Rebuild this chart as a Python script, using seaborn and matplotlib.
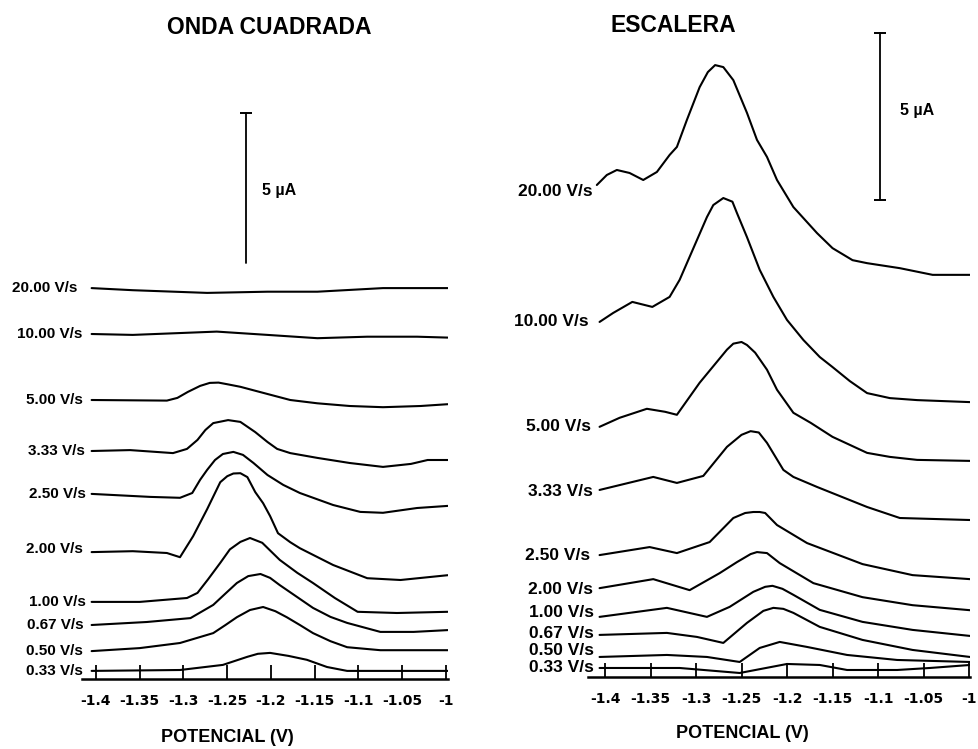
import matplotlib
matplotlib.use("Agg")
import matplotlib.pyplot as plt
import numpy as np
import pandas as pd
import seaborn as sns

# ---------------------------------------------------------------------------
# Scan rates (V/s), top to bottom
rates = ["20.00", "10.00", "5.00", "3.33", "2.50", "2.00", "1.00", "0.67", "0.50", "0.33"]

# ---- ONDA CUADRADA: potential (V) and current relative to start (uA) ----
sq_20_e = [-1.405, -1.358, -1.273, -1.204, -1.147, -1.072, -0.998]
sq_20_i = [0.00, -0.07, -0.16, -0.12, -0.12, 0.00, 0.00]

sq_10_e = [-1.405, -1.358, -1.262, -1.204, -1.147, -1.090, -1.033, -0.998]
sq_10_i = [0.00, -0.03, 0.08, -0.03, -0.14, -0.09, -0.09, -0.12]

sq_5_e = [-1.405, -1.319, -1.307, -1.295, -1.281, -1.270, -1.260, -1.249, -1.235, -1.204,
          -1.178, -1.147, -1.110, -1.072, -1.029, -0.998]
sq_5_i = [0.00, -0.02, 0.07, 0.27, 0.47, 0.57, 0.58, 0.52, 0.44, 0.20,
          0.00, -0.11, -0.20, -0.24, -0.20, -0.14]

sq_333_e = [-1.405, -1.361, -1.312, -1.296, -1.284, -1.275, -1.266, -1.249, -1.235, -1.218,
            -1.204, -1.193, -1.178, -1.147, -1.110, -1.072, -1.040, -1.021, -0.998]
sq_333_i = [0.00, 0.03, -0.07, 0.07, 0.37, 0.70, 0.93, 1.03, 0.97, 0.63,
            0.30, 0.07, -0.07, -0.23, -0.40, -0.53, -0.43, -0.30, -0.30]

sq_25_e = [-1.405, -1.338, -1.304, -1.290, -1.281, -1.273, -1.264, -1.255, -1.243, -1.232,
           -1.220, -1.204, -1.186, -1.167, -1.129, -1.098, -1.072, -1.033, -0.998]
sq_25_i = [0.00, -0.10, -0.13, 0.03, 0.47, 0.80, 1.13, 1.33, 1.40, 1.30,
           1.03, 0.63, 0.30, 0.03, -0.37, -0.60, -0.63, -0.47, -0.40]

sq_2_e = [-1.405, -1.358, -1.319, -1.304, -1.289, -1.273, -1.258, -1.250, -1.243, -1.235,
          -1.227, -1.218, -1.209, -1.201, -1.192, -1.178, -1.167, -1.129, -1.090, -1.052, -0.998]
sq_2_i = [0.00, 0.03, -0.03, -0.17, 0.53, 1.43, 2.33, 2.53, 2.62, 2.63,
          2.50, 2.00, 1.63, 1.20, 0.63, 0.33, 0.13, -0.43, -0.87, -0.93, -0.77]

sq_1_e = [-1.405, -1.350, -1.296, -1.284, -1.272, -1.258, -1.247, -1.235, -1.224, -1.210,
          -1.190, -1.170, -1.152, -1.127, -1.101, -1.056, -0.998]
sq_1_i = [0.00, 0.00, 0.13, 0.30, 0.75, 1.30, 1.75, 2.00, 2.13, 1.97,
          1.40, 0.97, 0.63, 0.13, -0.33, -0.37, -0.33]

sq_067_e = [-1.405, -1.342, -1.292, -1.266, -1.252, -1.239, -1.226, -1.212, -1.201, -1.190,
            -1.170, -1.152, -1.132, -1.113, -1.075, -1.037, -0.998]
sq_067_i = [0.00, 0.10, 0.23, 0.67, 1.05, 1.40, 1.63, 1.70, 1.57, 1.33,
            0.93, 0.57, 0.27, 0.07, -0.23, -0.23, -0.17]

sq_05_e = [-1.405, -1.350, -1.304, -1.266, -1.252, -1.239, -1.224, -1.209, -1.195, -1.182,
           -1.167, -1.152, -1.132, -1.113, -1.075, -0.998]
sq_05_i = [0.00, 0.10, 0.27, 0.60, 0.87, 1.13, 1.37, 1.47, 1.33, 1.13,
           0.87, 0.60, 0.33, 0.13, 0.03, 0.03]

sq_033_e = [-1.405, -1.304, -1.255, -1.227, -1.215, -1.201, -1.180, -1.159, -1.136, -1.113, -0.998]
sq_033_i = [0.00, 0.03, 0.20, 0.47, 0.57, 0.60, 0.50, 0.37, 0.13, 0.00, 0.00]

# ---- ESCALERA: potential (V) and current relative to start (uA) ----
st_20_e = [-1.409, -1.398, -1.387, -1.373, -1.358, -1.343, -1.329, -1.321, -1.310, -1.296,
           -1.287, -1.279, -1.270, -1.259, -1.244, -1.233, -1.222, -1.211, -1.193, -1.167,
           -1.150, -1.128, -1.112, -1.076, -1.040, -0.999]
st_20_i = [0.00, 0.30, 0.45, 0.36, 0.15, 0.39, 0.90, 1.14, 1.95, 2.93,
           3.38, 3.59, 3.53, 3.14, 2.16, 1.35, 0.84, 0.15, -0.66, -1.44,
           -1.89, -2.25, -2.34, -2.49, -2.69, -2.69]

st_10_e = [-1.406, -1.391, -1.370, -1.348, -1.329, -1.318, -1.307, -1.288, -1.281, -1.270,
           -1.260, -1.255, -1.244, -1.230, -1.215, -1.200, -1.182, -1.164, -1.150, -1.131,
           -1.112, -1.087, -1.057, -0.999]
st_10_i = [0.00, 0.27, 0.60, 0.45, 0.75, 1.26, 1.95, 3.14, 3.50, 3.71,
           3.60, 3.26, 2.54, 1.56, 0.75, 0.06, -0.54, -1.05, -1.35, -1.77,
           -2.13, -2.28, -2.34, -2.40]

st_5_e = [-1.406, -1.384, -1.354, -1.334, -1.321, -1.296, -1.266, -1.259, -1.250, -1.244,
          -1.235, -1.222, -1.211, -1.193, -1.174, -1.150, -1.112, -1.087, -1.057, -0.999]
st_5_i = [0.00, 0.27, 0.54, 0.45, 0.36, 1.32, 2.31, 2.49, 2.54, 2.45,
          2.22, 1.71, 1.11, 0.42, 0.12, -0.30, -0.78, -0.90, -0.99, -1.02]

st_333_e = [-1.406, -1.347, -1.321, -1.292, -1.266, -1.250, -1.240, -1.231, -1.222, -1.204,
            -1.193, -1.167, -1.112, -1.076, -0.999]
st_333_i = [0.00, 0.39, 0.21, 0.42, 1.29, 1.65, 1.76, 1.72, 1.41, 0.60,
            0.39, 0.09, -0.51, -0.84, -0.90]

st_25_e = [-1.406, -1.351, -1.321, -1.285, -1.259, -1.246, -1.237, -1.230, -1.224, -1.211,
           -1.178, -1.117, -1.062, -0.999]
st_25_i = [0.00, 0.24, 0.06, 0.39, 1.11, 1.26, 1.29, 1.29, 1.26, 0.90,
           0.36, -0.27, -0.60, -0.72]

st_2_e = [-1.406, -1.347, -1.307, -1.274, -1.255, -1.240, -1.233, -1.222, -1.208, -1.171,
          -1.117, -1.062, -0.999]
st_2_i = [0.00, 0.27, -0.06, 0.45, 0.78, 1.02, 1.08, 1.05, 0.75, 0.15,
          -0.27, -0.51, -0.66]

st_1_e = [-1.406, -1.332, -1.288, -1.263, -1.237, -1.224, -1.216, -1.205, -1.193, -1.164,
          -1.117, -1.062, -0.999]
st_1_i = [0.00, 0.27, 0.00, 0.30, 0.75, 0.90, 0.93, 0.84, 0.66, 0.21,
          -0.15, -0.39, -0.57]

st_067_e = [-1.406, -1.332, -1.299, -1.270, -1.244, -1.226, -1.215, -1.204, -1.193, -1.164,
            -1.117, -1.062, -0.999]
st_067_i = [0.00, 0.06, -0.06, -0.24, 0.36, 0.72, 0.81, 0.78, 0.66, 0.24,
            -0.15, -0.45, -0.66]

st_05_e = [-1.406, -1.332, -1.288, -1.252, -1.230, -1.208, -1.178, -1.134, -1.079, -0.999]
st_05_i = [0.00, 0.06, 0.00, -0.15, 0.27, 0.45, 0.30, 0.06, -0.09, -0.15]

st_033_e = [-1.406, -1.318, -1.252, -1.200, -1.164, -1.134, -1.079, -1.043, -0.999]
st_033_i = [0.00, 0.00, -0.15, 0.12, 0.09, -0.06, -0.06, 0.00, 0.09]

# Tick positions and labels (V)
tick_values = [-1.4, -1.35, -1.3, -1.25, -1.2, -1.15, -1.1, -1.05, -1.0]
tick_labels = ["-1.4", "-1.35", "-1.3", "-1.25", "-1.2", "-1.15", "-1.1", "-1.05", "-1"]

# ---------------------------------------------------------------------------
# Vertical stacking of the traces (uA) and label nudges (points)
sq_offsets = [13.03, 11.50, 9.30, 7.60, 6.17, 4.23, 2.57, 1.80, 0.93, 0.27]
st_offsets = [14.73, 10.63, 7.49, 5.60, 3.65, 2.66, 1.80, 1.26, 0.60, 0.27]
sq_label_dx = [-10, -7, -6, -5, -4, -6, -4, -6, -6, -6]
sq_label_dy = [0, 0, 0, 0, 0, 2, 0, 0, 0, 0]
st_label_dx = [-3, -8, -6, -5, -7, -5, -4, -4, -4, -4]
st_label_dy = [-5, 0, 0, -1, 0, -1, 3, 1, 5, 0]

sq_series = [(sq_20_e, sq_20_i), (sq_10_e, sq_10_i), (sq_5_e, sq_5_i), (sq_333_e, sq_333_i),
             (sq_25_e, sq_25_i), (sq_2_e, sq_2_i), (sq_1_e, sq_1_i), (sq_067_e, sq_067_i),
             (sq_05_e, sq_05_i), (sq_033_e, sq_033_i)]
st_series = [(st_20_e, st_20_i), (st_10_e, st_10_i), (st_5_e, st_5_i), (st_333_e, st_333_i),
             (st_25_e, st_25_i), (st_2_e, st_2_i), (st_1_e, st_1_i), (st_067_e, st_067_i),
             (st_05_e, st_05_i), (st_033_e, st_033_i)]


def long_frame(series, offsets):
    rows = []
    for rate, (e, i), off in zip(rates, series, offsets):
        for ev, iv in zip(e, i):
            rows.append({"rate": rate, "potential": ev, "current": iv + off})
    return pd.DataFrame(rows)


sns.set_theme(style="white")
plt.rcParams["font.family"] = ["Liberation Sans", "DejaVu Sans"]
plt.rcParams["text.color"] = "black"
plt.rcParams["xtick.color"] = "black"
plt.rcParams["axes.labelcolor"] = "black"

W, H = 979, 749
fig = plt.figure(figsize=(W / 100, H / 100), dpi=100)


def axes_px(left, right, top, bottom):
    return fig.add_axes([left / W, 1 - bottom / H, (right - left) / W, (bottom - top) / H])


def style_axis(ax, xlim, ylim):
    ax.set_xlim(*xlim)
    ax.set_ylim(*ylim)
    for side in ("left", "right", "top"):
        ax.spines[side].set_visible(False)
    ax.spines["bottom"].set_linewidth(1.8)
    ax.spines["bottom"].set_color("black")
    ax.set_yticks([])
    ax.set_xticks(tick_values)
    ax.set_xticklabels(tick_labels, fontfamily="DejaVu Sans", fontweight="bold",
                       fontsize=10, color="black")
    ax.tick_params(axis="x", direction="in", length=10, width=1.3, color="black",
                   pad=10.5, bottom=True)
    ax.set_xlabel("")
    ax.set_ylabel("")
    ax.patch.set_alpha(0)


def draw_panel(ax, series, offsets, dxs, dys, fsize):
    df = long_frame(series, offsets)
    sns.lineplot(data=df, x="potential", y="current", units="rate", estimator=None,
                 sort=False, color="black", linewidth=1.5, legend=False, ax=ax)
    for rate, (e, i), off, dx, dy in zip(rates, series, offsets, dxs, dys):
        ax.annotate(f"{rate} V/s", xy=(e[0], off + i[0]), xytext=(dx, dy),
                    textcoords="offset points", ha="right", va="center",
                    fontsize=fsize, fontweight="bold", color="black",
                    annotation_clip=False)


def scale_bar(ax, x, y0, length, caps_bottom):
    ax.plot([x, x], [y0, y0 + length], color="black", lw=1.3)
    ax.plot([x], [y0 + length], marker="_", color="black", ms=9, mew=1.4)
    if caps_bottom:
        ax.plot([x], [y0], marker="_", color="black", ms=9, mew=1.4)


# ---- ONDA CUADRADA ----
ax1 = axes_px(82, 448, 100, 679)
draw_panel(ax1, sq_series, sq_offsets, sq_label_dx, sq_label_dy, 11)
style_axis(ax1, (-1.416, -0.9977), (0, 19.3))
scale_bar(ax1, -1.228, 13.87, 5.0, caps_bottom=False)
ax1.text(-1.210, 16.3, "5 µA", fontsize=11.5, fontweight="bold", ha="left", va="center")

# ---- ESCALERA ----
ax2 = axes_px(588, 970, 20, 677)
draw_panel(ax2, st_series, st_offsets, st_label_dx, st_label_dy, 12.5)
style_axis(ax2, (-1.4187, -0.9989), (0, 19.67))
scale_bar(ax2, -1.098, 14.28, 5.0, caps_bottom=True)
ax2.text(-1.076, 16.95, "5 µA", fontsize=11.5, fontweight="bold", ha="left", va="center")

# Titles and axis titles
fig.text(269 / W, 1 - 28 / H, "ONDA CUADRADA", ha="center", va="center",
         fontsize=16.5, fontweight="bold")
fig.text(673 / W, 1 - 25 / H, "ESCALERA", ha="center", va="center",
         fontsize=16.5, fontweight="bold")
fig.text(227 / W, 1 - 737 / H, "POTENCIAL (V)", ha="center", va="center",
         fontsize=13, fontweight="bold")
fig.text(742 / W, 1 - 733 / H, "POTENCIAL (V)", ha="center", va="center",
         fontsize=13, fontweight="bold")

fig.savefig("out.png", dpi=100, facecolor="white")
